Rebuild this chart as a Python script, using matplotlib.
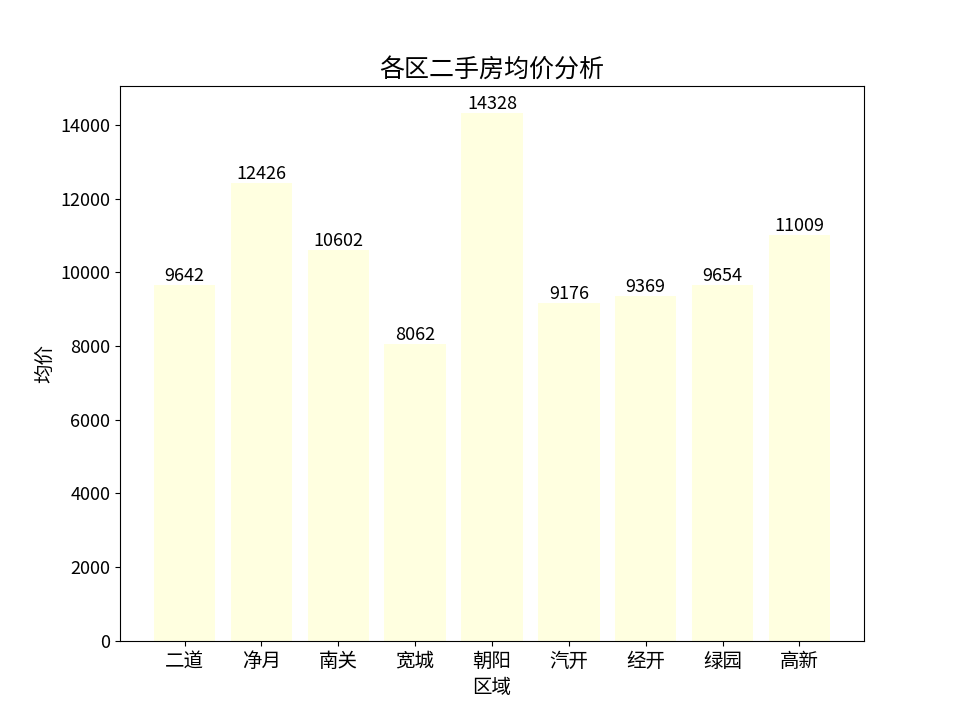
import matplotlib
matplotlib.use('Agg')
import matplotlib.pyplot as plt

plt.rcParams['font.family'] = ['Noto Sans CJK SC', 'DejaVu Sans']
plt.rcParams['axes.unicode_minus'] = False

districts = ['二道', '净月', '南关', '宽城', '朝阳', '汽开', '经开', '绿园', '高新']
prices = [9642, 12426, 10602, 8062, 14328, 9176, 9369, 9654, 11009]

fig = plt.figure(figsize=(9.6, 7.2), dpi=100)
ax = fig.add_subplot(111)
bars = ax.bar(districts, prices, color='lightyellow')
for b, v in zip(bars, prices):
    ax.text(b.get_x() + b.get_width() / 2, v, str(v), ha='center', va='bottom', fontsize=13)

ax.set_title('各区二手房均价分析', fontsize=18)
ax.set_xlabel('区域', fontsize=14)
ax.set_ylabel('均价', fontsize=14)
ax.tick_params(axis='x', labelsize=14)
ax.tick_params(axis='y', labelsize=13)

fig.savefig('out.png', dpi=100)
